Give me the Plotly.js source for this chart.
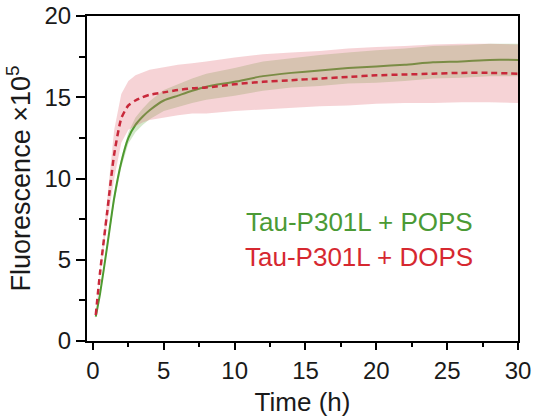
<!DOCTYPE html>
<html>
<head>
<meta charset="utf-8">
<script src="https://cdn.plot.ly/plotly-3.0.1.min.js"></script>
<style>html,body{margin:0;padding:0;background:#fff;}#chart{width:534px;height:420px;}</style>
</head>
<body>
<div id="chart"></div>
<script>
// Time (h)
var timeH = [0.2, 0.5, 1, 1.5, 2, 2.5, 3, 3.5, 4, 5, 6, 7, 8, 10, 12, 14, 16, 18, 20, 22, 24, 26, 28, 30];
// Tau-P301L + POPS (mean, sd) in units of 1e5
var popsMean = [1.5, 2.9, 5.8, 8.8, 11.0, 12.5, 13.3, 13.8, 14.2, 14.8, 15.1, 15.4, 15.65, 15.95, 16.3, 16.5, 16.65, 16.8, 16.9, 17.0, 17.15, 17.2, 17.3, 17.3];
var popsSd   = [0.1, 0.15, 0.2, 0.3, 0.3, 0.35, 0.45, 0.5, 0.55, 0.65, 0.7, 0.75, 0.8, 0.85, 0.9, 0.9, 0.95, 0.95, 1.0, 1.0, 1.0, 1.0, 1.0, 1.0];
// Tau-P301L + DOPS (mean, sd)
var dopsMean = [1.6, 4.2, 7.9, 11.5, 13.7, 14.5, 14.8, 15.0, 15.15, 15.3, 15.45, 15.55, 15.6, 15.8, 15.95, 16.05, 16.15, 16.25, 16.35, 16.4, 16.45, 16.5, 16.5, 16.45];
var dopsSd   = [0.1, 0.2, 0.6, 1.5, 1.5, 1.5, 1.55, 1.55, 1.55, 1.55, 1.55, 1.55, 1.6, 1.65, 1.7, 1.7, 1.7, 1.75, 1.75, 1.75, 1.8, 1.8, 1.8, 1.8];
var labels = ["Tau-P301L + POPS", "Tau-P301L + DOPS"];
var xTicks = [0, 5, 10, 15, 20, 25, 30];
var yTicks = [0, 5, 10, 15, 20];

function band(x, m, s) {
  var up = m.map(function(v, i){ return v + s[i]; });
  var lo = m.map(function(v, i){ return v - s[i]; });
  return { x: x.concat(x.slice().reverse()), y: up.concat(lo.slice().reverse()) };
}
var gB = band(timeH, popsMean, popsSd);
var rB = band(timeH, dopsMean, dopsSd);

var green = '#4e9a30', red = '#c8283a';
var traces = [
  {x: gB.x, y: gB.y, fill: 'toself', mode: 'lines', line: {width: 0}, fillcolor: 'rgba(110,180,80,0.3)', hoverinfo: 'skip', showlegend: false},
  {x: timeH, y: popsMean, mode: 'lines', line: {color: green, width: 2, shape: 'spline', smoothing: 0.6}, name: labels[0], showlegend: false},
  {x: rB.x, y: rB.y, fill: 'toself', mode: 'lines', line: {width: 0}, fillcolor: 'rgba(225,110,120,0.3)', hoverinfo: 'skip', showlegend: false},
  {x: timeH, y: dopsMean, mode: 'lines', line: {color: red, width: 2.5, dash: '6px,4px', shape: 'spline', smoothing: 0.6}, name: labels[1], showlegend: false}
];

var font = 'Arial, "Liberation Sans", sans-serif';
var layout = {
  width: 534, height: 420,
  margin: {l: 87, r: 16, t: 16, b: 79},
  paper_bgcolor: '#fff', plot_bgcolor: '#fff',
  showlegend: false,
  font: {family: font, color: '#1a1a1a'},
  xaxis: {
    range: [-0.42, 30], tickvals: xTicks, ticktext: xTicks.map(String),
    ticks: 'outside', ticklen: 7, tickwidth: 2, tickcolor: '#000',
    minor: {tickvals: [2.5, 7.5, 12.5, 17.5, 22.5, 27.5], ticks: 'outside', ticklen: 4, tickwidth: 2, tickcolor: '#000'},
    showline: true, linewidth: 2, linecolor: '#000', mirror: true,
    showgrid: false, zeroline: false,
    tickfont: {size: 24, family: font, color: '#1a1a1a'},
    title: {text: 'Time (h)', font: {size: 26, family: font, color: '#1a1a1a'}, standoff: 10}
  },
  yaxis: {
    range: [0, 20], tickvals: yTicks, ticktext: yTicks.map(String),
    ticks: 'outside', ticklen: 9, tickwidth: 2, tickcolor: '#000',
    minor: {tickvals: [2.5, 7.5, 12.5, 17.5], ticks: 'outside', ticklen: 6, tickwidth: 2, tickcolor: '#000'},
    showline: true, linewidth: 2, linecolor: '#000', mirror: true,
    showgrid: false, zeroline: false,
    tickfont: {size: 24, family: font, color: '#1a1a1a'},
    title: {text: 'Fluorescence ×10<sup>5</sup>', font: {size: 27, family: font, color: '#1a1a1a'}, standoff: 6}
  },
  annotations: [
    {x: 18.8, y: 7.3, xref: 'x', yref: 'y', text: labels[0], showarrow: false, font: {size: 26, family: font, color: '#4b9a35'}, xanchor: 'center', yanchor: 'middle'},
    {x: 18.8, y: 5.15, xref: 'x', yref: 'y', text: labels[1], showarrow: false, font: {size: 26, family: font, color: '#d62830'}, xanchor: 'center', yanchor: 'middle'}
  ]
};
Plotly.newPlot('chart', traces, layout, {staticPlot: true, displayModeBar: false});
</script>
</body>
</html>
